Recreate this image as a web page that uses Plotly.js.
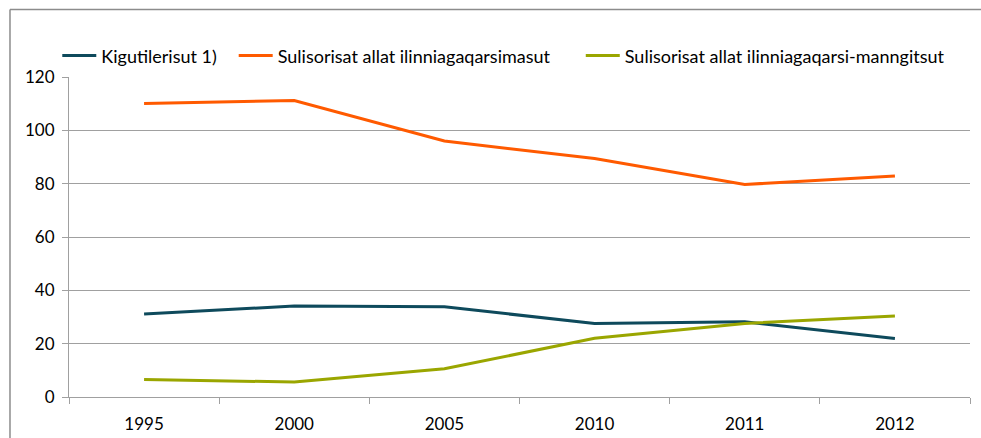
<!DOCTYPE html>
<html>
<head>
<meta charset="utf-8">
<script src="https://cdn.plot.ly/plotly-3.0.1.min.js"></script>
<style>
html,body{margin:0;padding:0;background:#fff;overflow:hidden;}
#chart{width:981px;height:438px;}
</style>
</head>
<body>
<div id="chart"></div>
<script>
const years = ["1995", "2000", "2005", "2010", "2011", "2012"];
const seriesNames = ["Kigutilerisut 1)", "Sulisorisat allat ilinniagaqarsimasut", "Sulisorisat allat ilinniagaqarsi-manngitsut"];
const kigutilerisut = [31.1, 34.1, 33.8, 27.6, 28.2, 21.9];
const ilinniagaqarsimasut = [110.1, 111.2, 96.0, 89.4, 79.7, 82.9];
const manngitsut = [6.6, 5.6, 10.6, 22.0, 27.6, 30.4];
const yTicks = [0, 20, 40, 60, 80, 100, 120];

const colors = ["#0e4a5c", "#ff5a00", "#9aa600"];
const allValues = [kigutilerisut, ilinniagaqarsimasut, manngitsut];
const legendIds = ["legend", "legend2", "legend3"];

const traces = allValues.map((vals, i) => ({
  type: "scatter",
  mode: "lines",
  x: years,
  y: vals,
  name: seriesNames[i],
  line: {color: colors[i], width: 3},
  legend: legendIds[i],
  hoverinfo: "x+y+name"
}));

const fontFam = "Lato, 'Open Sans', sans-serif";
const legendBase = {
  orientation: "h",
  xanchor: "left",
  yanchor: "middle",
  y: 1.066,
  bgcolor: "rgba(0,0,0,0)",
  font: {family: fontFam, size: 18, color: "#000"},
  itemwidth: 34,
  tracegroupgap: 0
};

const layout = {
  width: 981,
  height: 438,
  margin: {l: 69, r: 11, t: 77, b: 41, pad: 0},
  paper_bgcolor: "#fff",
  plot_bgcolor: "#fff",
  font: {family: fontFam, size: 17, color: "#000"},
  showlegend: true,
  legend: Object.assign({}, legendBase, {x: -0.013}),
  legend2: Object.assign({}, legendBase, {x: 0.1828}),
  legend3: Object.assign({}, legendBase, {x: 0.568}),
  xaxis: {
    type: "category",
    range: [-0.5, 5.5],
    tickson: "boundaries",
    ticks: "outside",
    ticklen: 6,
    tickcolor: "#a0a0a0",
    showline: true,
    linecolor: "#a0a0a0",
    linewidth: 1,
    showgrid: false,
    zeroline: false,
    ticklabelstandoff: 12,
    tickfont: {family: fontFam, size: 17, color: "#000"},
    fixedrange: true
  },
  yaxis: {
    range: [0, 120],
    tickvals: yTicks,
    ticktext: yTicks.map(String),
    ticks: "outside",
    ticklen: 6,
    tickcolor: "#a0a0a0",
    showline: true,
    linecolor: "#a0a0a0",
    linewidth: 1,
    showgrid: true,
    gridcolor: "#a0a0a0",
    gridwidth: 1,
    zeroline: false,
    ticklabelstandoff: 4,
    tickfont: {family: fontFam, size: 17, color: "#000"},
    fixedrange: true
  },
  shapes: [
    {type: "line", xref: "paper", yref: "paper", x0: -0.0655, x1: -0.0655, y0: -0.15, y1: 1.211,
     line: {color: "#8c8c8c", width: 1.5}, layer: "below"},
    {type: "line", xref: "paper", yref: "paper", x0: -0.0655, x1: 1.0122, y0: 1.211, y1: 1.211,
     line: {color: "#8c8c8c", width: 1.5}, layer: "below"}
  ]
};

Plotly.newPlot("chart", traces, layout, {displayModeBar: false, staticPlot: true});
</script>
</body>
</html>
